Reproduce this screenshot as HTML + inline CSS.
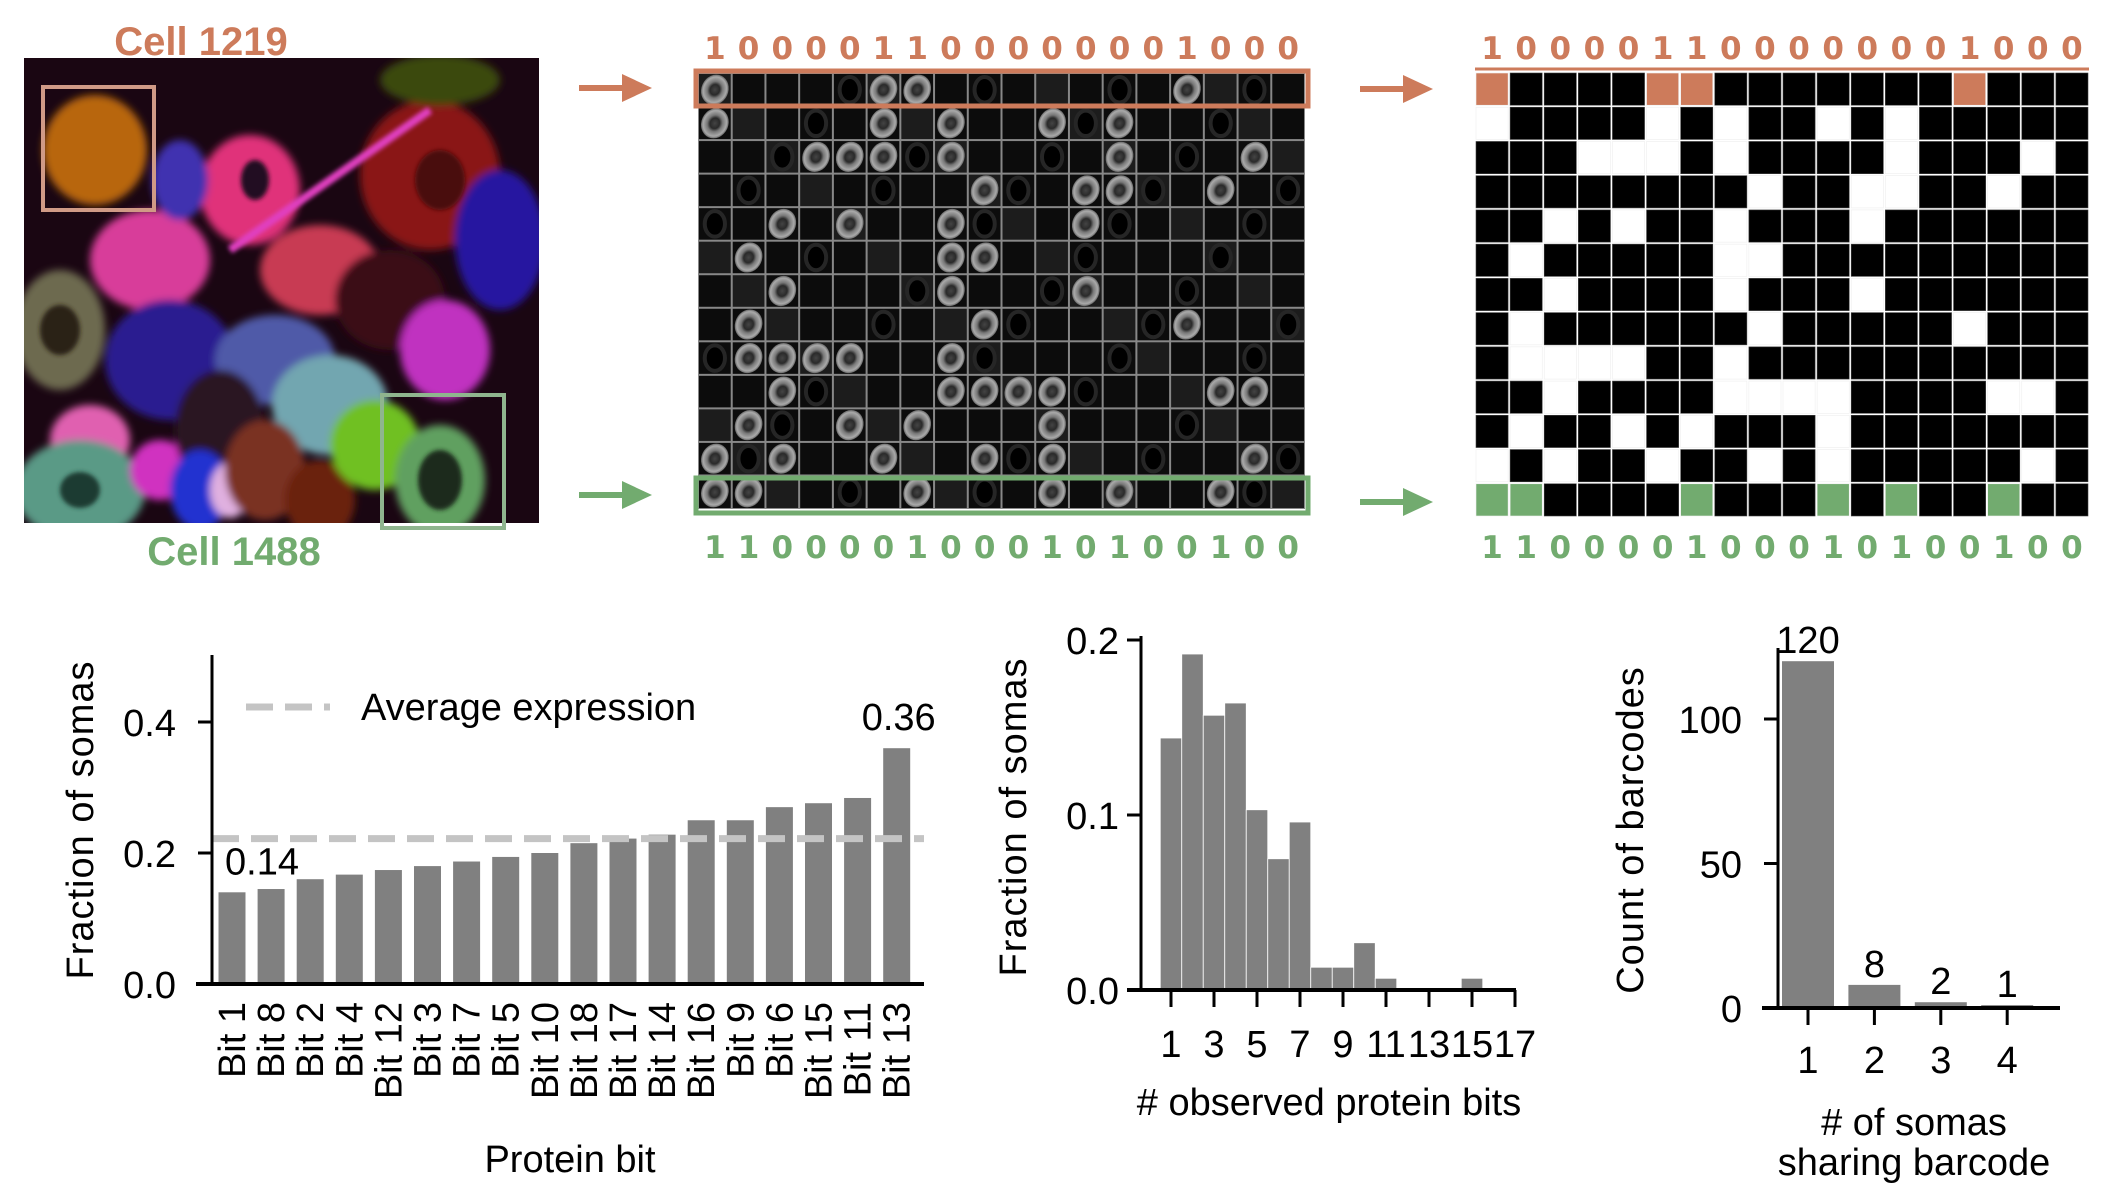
<!DOCTYPE html>
<html><head><meta charset="utf-8">
<style>
html,body{margin:0;padding:0;background:#fff;}
svg{display:block;font-family:"Liberation Sans",Arial,sans-serif;}
</style></head>
<body>
<svg id="fig" width="2118" height="1186" viewBox="0 0 2118 1186" xmlns="http://www.w3.org/2000/svg">
<defs>
  <filter id="blur4"><feGaussianBlur stdDeviation="4"/></filter>
  <filter id="blur2"><feGaussianBlur stdDeviation="2"/></filter>
  <radialGradient id="cellg" cx="50%" cy="50%" r="50%">
    <stop offset="0" stop-color="#444"/><stop offset="0.35" stop-color="#2a2a2a"/>
    <stop offset="0.55" stop-color="#777"/><stop offset="0.85" stop-color="#aaa"/><stop offset="1" stop-color="#666"/>
  </radialGradient>
  <clipPath id="imgclip"><rect x="24" y="58" width="515" height="465"/></clipPath>
</defs>

<g clip-path="url(#imgclip)">
  <rect x="24" y="58" width="515" height="465" fill="#1a0612"/>
  <g filter="url(#blur4)">
    <ellipse cx="95" cy="150" rx="52" ry="55" fill="#b8660e"/>
    <ellipse cx="250" cy="190" rx="50" ry="55" fill="#e0307a"/>
    <ellipse cx="150" cy="260" rx="60" ry="50" fill="#d83d9a"/>
    <ellipse cx="180" cy="180" rx="28" ry="40" fill="#4030b0"/>
    <ellipse cx="430" cy="175" rx="70" ry="75" fill="#8a1616"/>
    <ellipse cx="500" cy="240" rx="45" ry="70" fill="#2818a0"/>
    <ellipse cx="320" cy="270" rx="60" ry="45" fill="#c83a52"/>
    <ellipse cx="390" cy="300" rx="55" ry="50" fill="#3a0a18"/>
    <ellipse cx="60" cy="330" rx="45" ry="60" fill="#6d6a50"/>
    <ellipse cx="170" cy="360" rx="65" ry="60" fill="#2a1a90"/>
    <ellipse cx="275" cy="360" rx="60" ry="45" fill="#4f5aa8"/>
    <ellipse cx="330" cy="405" rx="58" ry="50" fill="#72a6b0"/>
    <ellipse cx="445" cy="350" rx="45" ry="50" fill="#c030c0"/>
    <ellipse cx="90" cy="440" rx="40" ry="35" fill="#e060b0"/>
    <ellipse cx="80" cy="490" rx="65" ry="50" fill="#5a9a86"/>
    <ellipse cx="160" cy="470" rx="30" ry="30" fill="#d030c0"/>
    <ellipse cx="220" cy="430" rx="45" ry="60" fill="#2a1520"/>
    <ellipse cx="200" cy="490" rx="30" ry="40" fill="#2030d0"/>
    <ellipse cx="230" cy="490" rx="20" ry="28" fill="#e0b0e0"/>
    <ellipse cx="265" cy="470" rx="40" ry="50" fill="#7a3020"/>
    <ellipse cx="320" cy="500" rx="35" ry="40" fill="#6a2010"/>
    <ellipse cx="375" cy="445" rx="45" ry="45" fill="#70c020"/>
    <ellipse cx="440" cy="480" rx="45" ry="55" fill="#60a060"/>
    <ellipse cx="440" cy="80" rx="60" ry="25" fill="#3a4a10"/>
  </g>
  <g filter="url(#blur2)">
    <ellipse cx="255" cy="180" rx="14" ry="20" fill="#200a20"/>
    <ellipse cx="440" cy="180" rx="25" ry="30" fill="#4a0a0a"/>
    <ellipse cx="60" cy="330" rx="20" ry="25" fill="#2a2014"/>
    <ellipse cx="440" cy="480" rx="22" ry="30" fill="#1a2a1a"/>
    <ellipse cx="80" cy="490" rx="20" ry="18" fill="#1a3a30"/>
    <path d="M230 250 L430 110" stroke="#e040c0" stroke-width="8"/>
  </g>
</g>
<rect x="43" y="87" width="111" height="123" fill="none" stroke="#d09a86" stroke-width="4"/>
<rect x="382" y="395" width="122" height="133" fill="none" stroke="#8fb58e" stroke-width="4"/>
<text x="201" y="55" text-anchor="middle" font-size="40" font-weight="bold" fill="#cd7b5b">Cell 1219</text>
<text x="234" y="565" text-anchor="middle" font-size="40" font-weight="bold" fill="#72ab6f">Cell 1488</text>

<g id="arrows"></g>
<g id="tiles"></g>
<g id="matrix"></g>
<g id="codes"></g>

<g id="chart1"></g>
<g id="chart2"></g>
<g id="chart3"></g>
</svg>

<script>
const matrixRows = [
"100001100000001000",
"100001010010100000",
"000111010000100010",
"000000001001100100",
"001010010001000000",
"010000011000000000",
"001000010001000000",
"010000001000001000",
"011110010000000000",
"001000011110000110",
"010010100010000000",
"101001001010000010",
"110000100010100100"];
const bitLabels = ["Bit 1","Bit 8","Bit 2","Bit 4","Bit 12","Bit 3","Bit 7","Bit 5","Bit 10","Bit 18","Bit 17","Bit 14","Bit 16","Bit 9","Bit 6","Bit 15","Bit 11","Bit 13"];
const bitValues = [0.14,0.145,0.16,0.167,0.174,0.18,0.187,0.194,0.20,0.215,0.222,0.228,0.25,0.25,0.27,0.276,0.284,0.36];
const avgExpression = 0.222;
const bit1Ticks = [0,0.2,0.4];
const histBins = [1,2,3,4,5,6,7,8,9,10,11,12,13,14,15,16,17];
const histValues = [0.144,0.192,0.157,0.164,0.103,0.075,0.096,0.013,0.013,0.027,0.0067,0,0,0,0.0067,0,0];
const histXTicks = [1,3,5,7,9,11,13,15,17];
const histYTicks = [0,0.1,0.2];
const shareCats = [1,2,3,4];
const shareCounts = [120,8,2,1];
const shareYTicks = [0,50,100];

const NS="http://www.w3.org/2000/svg";
function mk(parent,tag,attrs,text){const e=document.createElementNS(NS,tag);for(const k in attrs)e.setAttribute(k,attrs[k]);if(text!==undefined)e.textContent=text;parent.appendChild(e);return e;}
const ORANGE="#cd7b5b", GREEN="#72ab6f";

const arrows=document.getElementById('arrows');
[[579,88,ORANGE],[579,495,GREEN],[1360,89,ORANGE],[1360,502,GREEN]].forEach(a=>{
  const l=mk(arrows,'line',{x1:a[0],y1:a[1],x2:a[0]+45,y2:a[1],stroke:a[2],'stroke-width':6});
  
  
  const p=mk(arrows,'polygon',{points:`${a[0]+43},${a[1]-14} ${a[0]+73},${a[1]} ${a[0]+43},${a[1]+14}`,fill:a[2]});
  
  
});

const tiles=document.getElementById('tiles');
const tx0=698, ty0=73, tw=(1305-698)/18, th=(509-73)/13;
mk(tiles,'rect',{x:tx0,y:ty0,width:1305-698,height:509-73,fill:'#888'});
matrixRows.forEach((row,r)=>{
  for(let c=0;c<18;c++){
    const x=tx0+c*tw, y=ty0+r*th;
    const t=mk(tiles,'rect',{x:x+1,y:y+1,width:tw-2,height:th-2,fill:(r*7+c*3)%5===0?'#1c1c1c':'#0c0c0c'});
    
    
    if(row[c]==='1'){
      const e=mk(tiles,'ellipse',{cx:x+tw/2,cy:y+th/2,rx:tw*0.4,ry:th*0.46,fill:'url(#cellg)',transform:`rotate(25 ${x+tw/2} ${y+th/2})`});
      
      
    } else if((r+c)%4===0){
      const e=mk(tiles,'ellipse',{cx:x+tw/2,cy:y+th/2,rx:tw*0.3,ry:th*0.38,fill:'#000',stroke:'#262626','stroke-width':4});
      
      
    }
  }
});
const ob=mk(tiles,'rect',{x:696,y:71,width:612,height:35,fill:'none',stroke:ORANGE,'stroke-width':5});


const gb=mk(tiles,'rect',{x:696,y:478,width:612,height:35,fill:'none',stroke:GREEN,'stroke-width':5});



const mat=document.getElementById('matrix');
const mx0=1475, my0=72, mw=(2089-1475)/18, mh=(517-72)/13;
mk(mat,'line',{x1:mx0,y1:69,x2:2089,y2:69,stroke:ORANGE,'stroke-width':3});
matrixRows.forEach((row,r)=>{
  for(let c=0;c<18;c++){
    const on=row[c]==='1';
    let fill=on?'#ffffff':'#000000';
    if(r===0&&on)fill=ORANGE;
    if(r===12&&on)fill=GREEN;
    const cell=mk(mat,'rect',{x:mx0+c*mw+1,y:my0+r*mh+1,width:mw-2,height:mh-2,fill:fill,stroke:on?'#eee':'#444','stroke-width':0.6});
    
    
  }
});

const codes=document.getElementById('codes');
[[tx0,tw,47,matrixRows[0],ORANGE],[tx0,tw,558,matrixRows[12],GREEN],[mx0,mw,47,matrixRows[0],ORANGE],[mx0,mw,558,matrixRows[12],GREEN]].forEach(s=>{
  for(let c=0;c<18;c++){
    const t=mk(codes,'text',{x:s[0]+c*s[1]+s[1]/2,y:s[2]+(s[2]<100?12:0),'text-anchor':'middle','font-size':31,'font-weight':'bold',fill:s[4],'font-family':'"DejaVu Sans","Liberation Sans",sans-serif'},s[3][c]);
    
    
  }
});

const FS=38;
(function(){
  const g=document.getElementById('chart1');
  const ax=212, y0=984, ky=655;
  const y=v=>y0-v*ky, x=i=>232+i*39.1;
  bitValues.forEach((v,i)=>{
    const b=mk(g,'rect',{x:x(i)-13.5,y:y(v),width:27,height:y0-y(v),fill:'#808080'});
    
    
    const t=mk(g,'text',{transform:`translate(${x(i)+13},1002) rotate(-90)`,'text-anchor':'end','font-size':FS},bitLabels[i]);
    
    
  });
  const avg=mk(g,'line',{x1:ax,y1:y(avgExpression),x2:924,y2:y(avgExpression),stroke:'#c4c4c4','stroke-width':7,'stroke-dasharray':'27 12'});
  
  
  mk(g,'line',{x1:ax,y1:655,x2:ax,y2:y0+1,stroke:'#000','stroke-width':3});
  mk(g,'line',{x1:196,y1:y0,x2:924,y2:y0,stroke:'#000','stroke-width':4});
  bit1Ticks.forEach(v=>{
    mk(g,'line',{x1:ax-14,y1:y(v),x2:ax,y2:y(v),stroke:'#000','stroke-width':3});
    const t=mk(g,'text',{x:ax-36,y:y(v)+14,'text-anchor':'end','font-size':FS},v.toFixed(1));
    
    
  });
  const l1=mk(g,'text',{x:x(0)+30,y:y(bitValues[0])-18,'text-anchor':'middle','font-size':FS},bitValues[0].toFixed(2));
  
  
  const last=bitValues.length-1;
  const l2=mk(g,'text',{x:x(last)+2,y:y(bitValues[last])-18,'text-anchor':'middle','font-size':FS},bitValues[last].toFixed(2));
  
  
  const ld=mk(g,'line',{x1:246,y1:707,x2:330,y2:707,stroke:'#c4c4c4','stroke-width':7,'stroke-dasharray':'27 12'});
  
  
  const lt=mk(g,'text',{x:361,y:720,'font-size':FS},'Average expression');
  
  
  const xl=mk(g,'text',{x:570,y:1172,'text-anchor':'middle','font-size':FS},'Protein bit');
  
  
  const yl=mk(g,'text',{transform:'translate(93,820) rotate(-90)','text-anchor':'middle','font-size':FS,'letter-spacing':1},'Fraction of somas');
  
  
})();

(function(){
  const g=document.getElementById('chart2');
  const ax=1141, y0=990, ky=1750;
  const y=v=>y0-v*ky, x=v=>1171+(v-1)*21.5;
  histBins.forEach((b,i)=>{
    const v=histValues[i]; if(v<=0) return;
    const r=mk(g,'rect',{x:x(b)-10.75,y:y(v),width:21.5,height:y0-y(v),fill:'#808080',stroke:'#fff','stroke-width':0.8});
    
    
  });
  mk(g,'line',{x1:ax,y1:636,x2:ax,y2:y0+1,stroke:'#000','stroke-width':3});
  mk(g,'line',{x1:1127,y1:y0,x2:1516,y2:y0,stroke:'#000','stroke-width':4});
  histYTicks.forEach(v=>{
    mk(g,'line',{x1:ax-14,y1:y(v),x2:ax,y2:y(v),stroke:'#000','stroke-width':3});
    const t=mk(g,'text',{x:ax-22,y:y(v)+14,'text-anchor':'end','font-size':FS},v.toFixed(1));
    
    
  });
  histXTicks.forEach(v=>{
    mk(g,'line',{x1:x(v),y1:y0,x2:x(v),y2:y0+17,stroke:'#000','stroke-width':3});
    const t=mk(g,'text',{x:x(v),y:1057,'text-anchor':'middle','font-size':FS},String(v));
    
    
  });
  const xl=mk(g,'text',{x:1329,y:1115,'text-anchor':'middle','font-size':FS},'# observed protein bits');
  
  
  const yl=mk(g,'text',{transform:'translate(1026,817) rotate(-90)','text-anchor':'middle','font-size':FS,'letter-spacing':1},'Fraction of somas');
  
  
})();

(function(){
  const g=document.getElementById('chart3');
  const ax=1778, y0=1008, ky=2.89;
  const y=v=>y0-v*ky, x=c=>1808+(c-1)*66.4;
  shareCats.forEach((c,i)=>{
    const v=shareCounts[i];
    const r=mk(g,'rect',{x:x(c)-26,y:y(v),width:52,height:y0-y(v),fill:'#808080'});
    
    
    const t=mk(g,'text',{x:x(c),y:y(v)-8,'text-anchor':'middle','font-size':FS},String(v));
    
    
    mk(g,'line',{x1:x(c),y1:y0,x2:x(c),y2:y0+17,stroke:'#000','stroke-width':3});
    const tl=mk(g,'text',{x:x(c),y:1073,'text-anchor':'middle','font-size':FS},String(c));
    
    
  });
  mk(g,'line',{x1:ax,y1:648,x2:ax,y2:y0+1,stroke:'#000','stroke-width':3});
  mk(g,'line',{x1:1762,y1:y0,x2:2060,y2:y0,stroke:'#000','stroke-width':4});
  shareYTicks.forEach(v=>{
    mk(g,'line',{x1:ax-14,y1:y(v),x2:ax,y2:y(v),stroke:'#000','stroke-width':3});
    const t=mk(g,'text',{x:ax-36,y:y(v)+14,'text-anchor':'end','font-size':FS},String(v));
    
    
  });
  const x1=mk(g,'text',{x:1914,y:1135,'text-anchor':'middle','font-size':FS},'# of somas');
  
  
  const x2=mk(g,'text',{x:1914,y:1175,'text-anchor':'middle','font-size':FS},'sharing barcode');
  
  
  const yl=mk(g,'text',{transform:'translate(1643,830) rotate(-90)','text-anchor':'middle','font-size':FS,'letter-spacing':1},'Count of barcodes');
  
  
})();
</script>
</body></html>
